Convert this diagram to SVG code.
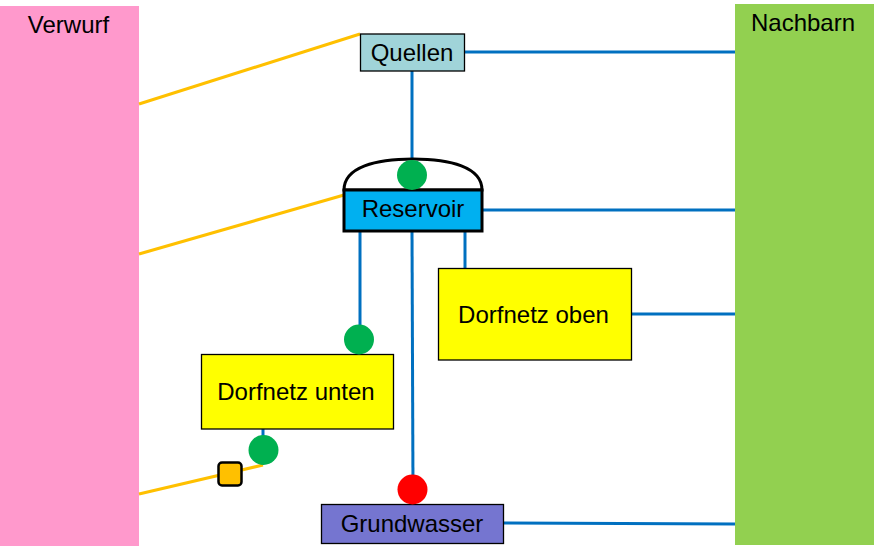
<svg xmlns="http://www.w3.org/2000/svg" width="874" height="552" viewBox="0 0 874 552">
<style>
text{font-family:"Liberation Sans",Arial,sans-serif;font-size:24px;fill:#000;text-anchor:middle}
.b{stroke:#0070C0;stroke-width:3;fill:none}
.y{stroke:#FFC000;stroke-width:3;fill:none}
.box{stroke:#000;stroke-width:1.3}
.g{fill:#00B050}
</style>
<rect width="874" height="552" fill="#fff"/>
<g id="Verwurf"><rect x="0" y="6" width="139" height="540" fill="#FF99CC"/><text x="68.5" y="33">Verwurf</text></g>
<g id="Nachbarn"><rect x="735" y="4" width="139" height="541" fill="#92D050"/><text x="803" y="31">Nachbarn</text></g>
<g id="connectors">
<line class="y" x1="139" y1="104" x2="360" y2="34"/>
<line class="y" x1="139" y1="254" x2="344" y2="195"/>
<line class="y" x1="139" y1="494" x2="263" y2="465"/>
<line class="b" x1="464" y1="52" x2="735" y2="52"/>
<line class="b" x1="412" y1="71" x2="412" y2="160"/>
<line class="b" x1="482" y1="210" x2="735" y2="210"/>
<line class="b" x1="360" y1="231" x2="360" y2="339"/>
<line class="b" x1="412" y1="231" x2="413" y2="489"/>
<line class="b" x1="465" y1="231" x2="465" y2="268"/>
<line class="b" x1="631" y1="314" x2="735" y2="314"/>
<line class="b" x1="263" y1="429" x2="263" y2="450"/>
<line class="b" x1="503" y1="523" x2="735" y2="524"/>
</g>
<g id="Quellen"><rect class="box" x="360.5" y="34" width="104" height="37" fill="#A0D4D9"/><text x="412" y="61">Quellen</text></g>
<g id="Reservoir">
<path d="M344,190 C344,167 376,159 413,159 C450,159 482,167 482,190 Z" fill="#fff" stroke="#000" stroke-width="3"/>
<rect x="344" y="190" width="138" height="41" fill="#00B0F0" stroke="#000" stroke-width="3"/>
<circle class="g" cx="412" cy="175" r="15"/>
<text x="413" y="217">Reservoir</text>
</g>
<g id="Dorfnetz-oben"><rect class="box" x="438.5" y="268.5" width="193" height="91.5" fill="#FFFF00"/><text x="533.5" y="323">Dorfnetz oben</text></g>
<g id="Dorfnetz-unten"><rect class="box" x="201.5" y="354.5" width="192" height="74.5" fill="#FFFF00"/><text x="296" y="400">Dorfnetz unten</text></g>
<g id="Grundwasser"><rect class="box" x="321.5" y="504.5" width="182" height="39" fill="#7575D0"/><text x="412" y="532">Grundwasser</text></g>
<g id="valves">
<circle class="g" cx="359" cy="339.5" r="15"/>
<circle class="g" cx="263.5" cy="450" r="15"/>
<circle cx="412.5" cy="489.5" r="15" fill="#FF0000"/>
<rect x="218.5" y="462.5" width="23" height="23" rx="3.5" fill="#FFC000" stroke="#000" stroke-width="2.5"/>
</g>
</svg>
